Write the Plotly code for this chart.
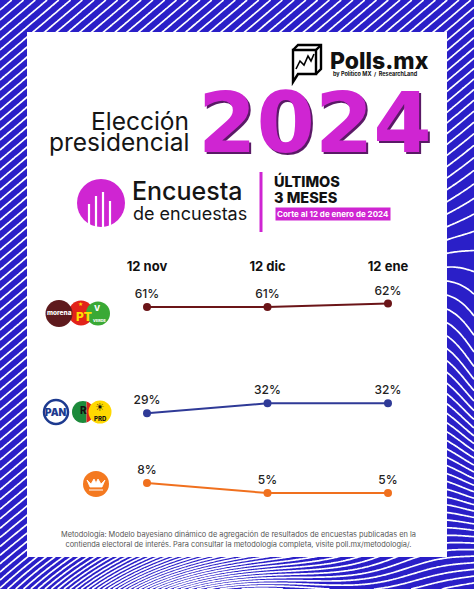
import numpy as np
import plotly.graph_objects as go

# ---------------- data ----------------
dates = ['12 nov', '12 dic', '12 ene']
morena_pt_verde = [61, 61, 62]
pan_pri_prd = [29, 32, 32]
movimiento_ciudadano = [8, 5, 5]
series_names = ['Morena-PT-Verde', 'PAN-PRI-PRD', 'Movimiento Ciudadano']
series_colors = ['#6b1518', '#2f3a97', '#f0701e']

W, H = 474, 589
BLUE = '#2a1fc8'
MAG = '#cf25d2'
FONT = 'Inter'

fig = go.Figure()

# ---------------- background pattern (decoration) ----------------
gx = np.linspace(0, W, 200)
gy = np.linspace(0, H, 250)
X, Y = np.meshgrid(gx, gy)
field = (0.85 * X + Y
         + 320 * np.exp(-(((X - 210) / 130) ** 2 + ((Y - 650) / 75) ** 2))
         - 160 * np.exp(-(((X - 520) / 70) ** 2 + ((Y - 400) / 160) ** 2)))
fig.add_trace(go.Contour(
    x=gx, y=gy, z=field, xaxis='x', yaxis='y',
    contours=dict(coloring='lines', start=float(field.min()), end=float(field.max()), size=10),
    colorscale=[[0, 'white'], [1, 'white']], line=dict(width=1.7, smoothing=1),
    showscale=False, hoverinfo='skip'))

# white card
fig.add_trace(go.Scatter(x=[27, 447, 447, 27, 27], y=[32, 32, 557, 557, 32],
                         fill='toself', fillcolor='white', mode='lines',
                         line=dict(width=0), hoverinfo='skip', xaxis='x', yaxis='y'))

# ---------------- chart ----------------
for name, vals, color in zip(series_names, [morena_pt_verde, pan_pri_prd, movimiento_ciudadano], series_colors):
    fig.add_trace(go.Scatter(
        x=dates, y=vals, name=name, mode='lines+markers+text',
        text=[f'{v}%' for v in vals], textposition='top center',
        textfont=dict(family=FONT, size=12, color='#222', weight=500),
        line=dict(color=color, width=2), marker=dict(size=8, color=color),
        xaxis='x2', yaxis='y2', cliponaxis=False, hoverinfo='skip'))

shapes = []
annotations = []

# vertical grid lines of chart
for gxv in [0.32, 1.34]:
    shapes.append(dict(type='line', xref='x2', yref='y2 domain', x0=gxv, x1=gxv, y0=0, y1=1,
                       line=dict(color='#e4e4e4', width=1), layer='below'))


def ann(text, x, y, size, color='#111', weight=400, xanchor='center', family=FONT, **kw):
    annotations.append(dict(text=text, x=x, y=y, xref='x', yref='y', showarrow=False,
                            xanchor=xanchor, yanchor='middle',
                            font=dict(family=family, size=size, color=color, weight=weight), **kw))


def circle(cx, cy, r, fill, line_color=None, lw=0):
    shapes.append(dict(type='circle', xref='x', yref='y', x0=cx - r, x1=cx + r, y0=cy - r, y1=cy + r,
                       fillcolor=fill, line=dict(color=line_color or fill, width=lw)))


def segment(cx, cy, r, d, side, fill):
    a0 = np.arccos(min(1, max(-1, d / r)))
    if side == 'left':
        th = np.linspace(np.pi - a0, np.pi + a0, 24)
    else:
        th = np.linspace(-a0, a0, 24)
    pts = ' L'.join(f'{cx + r*np.cos(t):.2f},{cy + r*np.sin(t):.2f}' for t in th)
    shapes.append(dict(type='path', xref='x', yref='y', path='M' + pts + ' Z',
                       fillcolor=fill, line=dict(width=0)))


def path(p, color='black', width=2, fill=None):
    d = dict(type='path', xref='x', yref='y', path=p, line=dict(color=color, width=width))
    if fill:
        d['fillcolor'] = fill
    shapes.append(d)


# Polls.mx logo
path('M293,50 L316,50 L316,74 L298,74 L293,82 Z', width=2.4)
path('M293,50 L298,45 L321,45 L321,69 L316,74', width=2.4)
path('M316,50 L321,45', width=2.4)
path('M296,69 L300,61 L304,65 L308,56 L311,61 L314,54', width=1.6)
ann('Polls.mx', 328, 61, 23, '#111', 800, 'left')
ann('by Político MX  /  ResearchLand', 331, 73, 5.5, '#111', 700, 'left')

# Title
ann('Elección', 191, 121, 24.5, '#151515', 400, 'right')
ann('presidencial', 191, 142, 24.5, '#151515', 400, 'right')
ann('2024', 316.5, 124.5, 84, '#5a1a66', 700, 'center', family='DejaVu Sans')
ann('2024', 315, 123, 84, MAG, 700, 'center', family='DejaVu Sans')

# Encuesta de encuestas logo
circle(101, 203, 24, MAG)
for bx, top in zip([89, 96, 103, 110], [204, 196, 192, 201]):
    path(f'M{bx},{top} L{bx},230', color='white', width=2.2)
ann('Encuesta', 130, 191, 25, '#151515', 500, 'left')
ann('de encuestas', 131, 213, 18, '#151515', 400, 'left')
path('M261,172 L261,232', color=MAG, width=3)
ann('ÚLTIMOS', 272, 181, 14.5, '#111', 800, 'left')
ann('3 MESES', 272, 197, 14.5, '#111', 800, 'left')
ann('Corte al 12 de enero de 2024', 275, 214, 8, 'white', 700, 'left', bgcolor=MAG, borderpad=1)

# Party logos: Morena / PT / Verde
circle(81, 313, 12.5, '#e2231a')
circle(59, 313.5, 13.5, '#5e1a1d')
circle(98, 313.5, 12, '#3aa935')
ann('morena', 59, 313, 6.5, 'white', 800)
ann('PT', 84, 316, 12, '#ffe000', 800)
ann('★', 80, 304, 5, '#ffe000', 400)
ann('V', 97, 308, 8, 'white', 800)
ann('VERDE', 99, 320, 3.8, 'white', 800)

# PAN / PRI / PRD
circle(83, 412, 11, 'white')
segment(83, 412, 11, -3.5, 'left', '#1c8a3b')
segment(83, 412, 11, 3.5, 'right', '#d9261c')
circle(56, 412, 12, 'white', '#1d3a8f', 2.5)
ann('PAN', 56, 412, 10, '#1d3a8f', 900)
ann('R', 83, 410, 10, '#111', 800)
circle(100, 412, 11.5, '#ffd800')
ann('☀', 100, 407, 11, '#111', 400, family='DejaVu Sans')
ann('PRD', 100, 418, 6, '#111', 800)

# Movimiento Ciudadano
circle(96, 484, 13, '#f47920')
path('M87,480 L91,484 L94,479 L96,483 L98,479 L101,484 L105,480 L102,487 L90,487 Z',
     color='white', width=0.8, fill='white')
path('M89,490 L103,490', color='white', width=1)

# Footer
ann('Metodología: Modelo bayesiano dinámico de agregación de resultados de encuestas publicadas en la<br>'
    'contienda electoral de interés. Para consultar la metodología completa, visite poll.mx/metodología/.',
    238, 539, 7.4, '#555', 400, align='center')

# ---------------- layout ----------------
px0, px1 = 147, 388
step = (px1 - px0) / 2
x_lo = -(px0 - 27) / step
x_hi = 2 + (447 - px1) / step

fig.update_layout(
    width=W, height=H, margin=dict(l=0, r=0, t=0, b=0),
    paper_bgcolor=BLUE, plot_bgcolor='rgba(0,0,0,0)',
    showlegend=False, hovermode=False,
    xaxis=dict(domain=[0, 1], range=[0, W], visible=False, fixedrange=True),
    yaxis=dict(domain=[0, 1], range=[H, 0], visible=False, fixedrange=True),
    xaxis2=dict(domain=[27 / W, 447 / W], range=[x_lo, x_hi], anchor='y2', side='top',
                showgrid=False, zeroline=False, showline=False, ticks='',
                tickfont=dict(family=FONT, size=13, color='#111', weight=700), fixedrange=True),
    yaxis2=dict(domain=[1 - 510 / H, 1 - 275 / H], range=[-0.1, 70.6], anchor='x2',
                visible=False, fixedrange=True),
    shapes=shapes, annotations=annotations,
)

fig.write_html('out.html', config={'displayModeBar': False},
               post_script="document.body.style.margin='0';document.body.style.overflow='hidden';")
